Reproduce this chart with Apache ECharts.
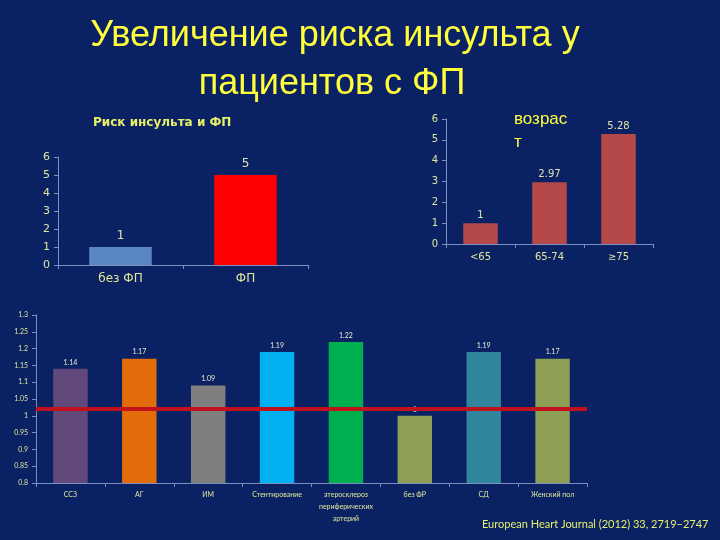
<!DOCTYPE html>
<html><head><meta charset="utf-8">
<script src="https://cdn.jsdelivr.net/npm/echarts@6/dist/echarts.min.js"></script>
<style>html,body{margin:0;padding:0;background:#0a2163;}#c{width:720px;height:540px;}</style>
</head><body><div id="c"></div>
<script>
// Chart 1: stroke risk and AF
const cat1 = ['без ФП', 'ФП'];
const val1 = [1, 5];
const col1 = ['#5b86c4', '#ff0000'];
// Chart 2: age
const cat2 = ['<65', '65-74', '≥75'];
const val2 = [1, 2.97, 5.28];
// Chart 3: risk factors
const cat3 = ['ССЗ', 'АГ', 'ИМ', 'Стентирование', 'атеросклероз\nпериферических\nартерий', 'без ФР', 'СД', 'Женский пол'];
const val3 = [1.14, 1.17, 1.09, 1.19, 1.22, 1.00, 1.19, 1.17];
const col3 = ['#62497c', '#e36c0a', '#7f7f7f', '#00b0f0', '#00b050', '#8d9f55', '#31859c', '#8d9f55'];
const refLine3 = 1.02;

const yel = '#ffff3c';
const tickCol = '#dfe79a';
const axCol = '#7d8fc0';

const chart = echarts.init(document.getElementById('c'));
const baseAxis = (gi, fs, fam) => ({
  gridIndex: gi,
  axisLine: {show: true, lineStyle: {color: axCol}},
  axisTick: {show: true, length: 4, lineStyle: {color: axCol}},
  axisLabel: {color: tickCol, fontSize: fs, fontFamily: fam},
  splitLine: {show: false}
});
chart.setOption({
  backgroundColor: '#0a2163',
  animation: false,
  grid: [
    {left: 58, right: 412, top: 157, bottom: 275},
    {left: 446, right: 67, top: 119, bottom: 296},
    {left: 36, right: 133, top: 315, bottom: 57}
  ],
  xAxis: [
    Object.assign(baseAxis(0, 12, 'DejaVu Sans'), {type: 'category', data: cat1, axisLabel: {color: tickCol, fontSize: 12, fontFamily: 'DejaVu Sans', margin: 8}}),
    Object.assign(baseAxis(1, 10, 'DejaVu Sans'), {type: 'category', data: cat2, axisLabel: {color: tickCol, fontSize: 10, fontFamily: 'DejaVu Sans', margin: 8}}),
    Object.assign(baseAxis(2, 7, 'Lato'), {type: 'category', data: cat3, axisLabel: {color: tickCol, fontSize: 7, fontFamily: 'Lato', lineHeight: 12, margin: 6, interval: 0}})
  ],
  yAxis: [
    Object.assign(baseAxis(0, 11, 'DejaVu Sans'), {type: 'value', min: 0, max: 6, interval: 1}),
    Object.assign(baseAxis(1, 10, 'DejaVu Sans'), {type: 'value', min: 0, max: 6, interval: 1}),
    Object.assign(baseAxis(2, 7, 'Lato'), {type: 'value', min: 0.8, max: 1.3, interval: 0.05,
      axisLabel: {color: tickCol, fontSize: 7, fontFamily: 'Lato', formatter: v => String(+v.toFixed(2))}})
  ],
  series: [
    {type: 'bar', xAxisIndex: 0, yAxisIndex: 0, barWidth: '50%',
     data: val1.map((v, i) => ({value: v, itemStyle: {color: col1[i]}})),
     label: {show: true, position: 'top', color: '#dfe3b0', fontSize: 12, fontFamily: 'DejaVu Sans'}},
    {type: 'bar', xAxisIndex: 1, yAxisIndex: 1, barWidth: '50%',
     itemStyle: {color: '#b5494a'}, data: val2,
     label: {show: true, position: 'top', color: '#dfe3b0', fontSize: 10, fontFamily: 'DejaVu Sans', distance: 3}},
    {type: 'bar', xAxisIndex: 2, yAxisIndex: 2, barWidth: '50%',
     data: val3.map((v, i) => ({value: v, itemStyle: {color: col3[i]}})),
     label: {show: true, position: 'top', color: '#e8ecd0', fontSize: 7, fontFamily: 'Lato', distance: 3,
       formatter: p => String(+p.value.toFixed(2))},
     markLine: {silent: true, symbol: 'none', label: {show: false},
       lineStyle: {color: '#c0121c', width: 4, type: 'solid'},
       data: [{yAxis: refLine3}]}}
  ],
  graphic: [
    {type: 'text', style: {text: 'Увеличение риска инсульта у', x: 335, y: 36, textAlign: 'center', textVerticalAlign: 'middle', font: '36px "Liberation Sans"', fill: yel}},
    {type: 'text', style: {text: 'пациентов с ФП', x: 332, y: 84, textAlign: 'center', textVerticalAlign: 'middle', font: '36px "Liberation Sans"', fill: yel}},
    {type: 'text', style: {text: 'Риск инсульта и ФП', x: 93, y: 123, textVerticalAlign: 'middle', font: 'bold 12px "DejaVu Sans"', fill: '#e6ee6a'}},
    {type: 'text', style: {text: 'возрас', x: 514, y: 119, textVerticalAlign: 'middle', font: '17px "Liberation Sans"', fill: yel}},
    {type: 'text', style: {text: 'т', x: 514, y: 142, textVerticalAlign: 'middle', font: '17px "Liberation Sans"', fill: yel}},
    {type: 'text', style: {text: 'European Heart Journal (2012) 33, 2719\u22122747', x: 482, y: 524, textVerticalAlign: 'middle', font: '11px Lato', fill: '#e6f06e'}}
  ]
});
</script></body></html>
